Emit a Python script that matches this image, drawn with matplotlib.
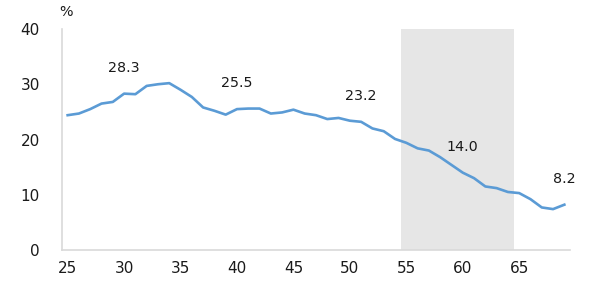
import matplotlib
matplotlib.use('Agg')
import matplotlib.pyplot as plt

ages = list(range(25, 70))
rate = [24.4, 24.7, 25.5, 26.5, 26.8, 28.3, 28.2, 29.7, 30.0, 30.2,
        29.0, 27.7, 25.8, 25.2, 24.5, 25.5, 25.6, 25.6, 24.7, 24.9,
        25.4, 24.7, 24.4, 23.7, 23.9, 23.4, 23.2, 22.0, 21.5, 20.1,
        19.4, 18.4, 18.0, 16.8, 15.4, 14.0, 13.0, 11.5, 11.2, 10.5,
        10.3, 9.2, 7.7, 7.4, 8.2]
label_ages = [30, 40, 51, 60, 69]
band = (54.5, 64.5)
xticks = [25, 30, 35, 40, 45, 50, 55, 60, 65]
yticks = [0, 10, 20, 30, 40]

fig = plt.figure(figsize=(5.99, 2.92), dpi=100)
ax = fig.add_axes([62 / 599, 1 - 250 / 292, 508 / 599, 221 / 292])

ax.axvspan(band[0], band[1], color='#e6e6e6', lw=0, zorder=0)
ax.plot(ages, rate, color='#5b9bd5', lw=1.9, zorder=2)

for a in label_ages:
    v = rate[ages.index(a)]
    ax.annotate('%.1f' % v, (a, v), xytext=(0, 18.5), textcoords='offset points',
                ha='center', va='center', fontsize=10.3, color='#1a1a1a')

ax.set_xlim(24.5, 69.5)
ax.set_ylim(0, 40)
ax.set_xticks(xticks)
ax.set_yticks(yticks)
ax.tick_params(axis='both', length=0, labelsize=11, colors='#1a1a1a')
ax.tick_params(axis='y', pad=16)
ax.tick_params(axis='x', pad=8)

for s in ['top', 'right']:
    ax.spines[s].set_visible(False)
for s in ['left', 'bottom']:
    ax.spines[s].set_color('#d9d9d9')
    ax.spines[s].set_linewidth(1.2)

fig.text(66 / 599, 1 - 12 / 292, '%', ha='center', va='center', fontsize=10.3, color='#1a1a1a')

fig.savefig('out.png', dpi=100)
